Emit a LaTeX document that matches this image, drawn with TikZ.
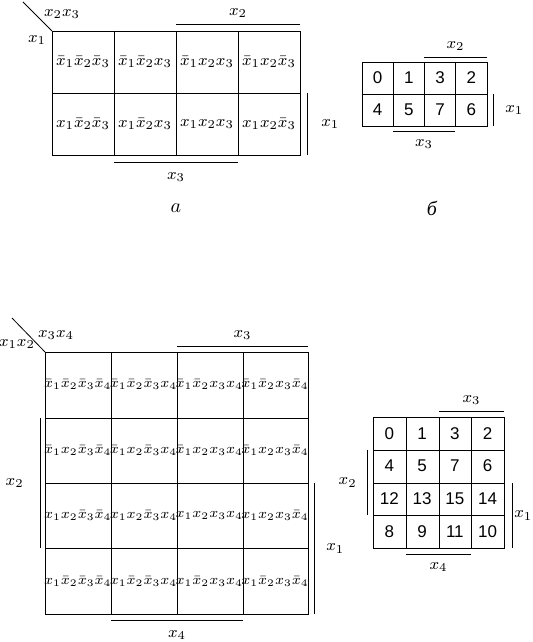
\documentclass[tikz,border=0pt]{standalone}
\usepackage{fontspec}
\newfontfamily\numfont{Liberation Sans}
\newfontfamily\cyrfont{Liberation Serif}
\usepackage{amsmath}
\newcommand{\nx}[1]{\bar{x}_{#1}}

\begin{document}
\begin{tikzpicture}[x=0.5pt,y=-0.5pt]
\tikzstyle{every node}+=[inner sep=0pt,font=\footnotesize]
\tikzstyle{cellA}=[font=\footnotesize]
\tikzstyle{cellC}=[font=\fontsize{7.3}{9}\selectfont]
\tikzstyle{num}=[font=\numfont\fontsize{8.5}{10}\selectfont]
\tikzstyle{caption}=[font=\normalsize]
\useasboundingbox (0,0) rectangle (532,642);
% map a
\draw [black] (52,31) rectangle (300,155);
\foreach \x in {114,176,238} \draw [black] (\x,31) -- (\x,155);
\draw [black] (52,93) -- (300,93);
\draw [black] (23,2) -- (52,31);
\node (a23) at (62,14) {$x_2x_3$};
\node (a1) at (37,40) {$x_1$};
\foreach \r [count=\i] in {\nx1,x_1}
  \foreach \c [count=\j] in {{\nx2\nx3},{\nx2x_3},{x_2x_3},{x_2\nx3}}
    \node [cellA] (a\i\j) at ({21+62*\j},{62*\i}) {$\r\c$};
\draw [black] (176,24) -- (300,24) node [midway,above=3pt] (ax2) {$x_2$};
\draw [black] (307,93) -- (307,155) node [midway,right=7pt] (ax1) {$x_1$};
\draw [black] (114,162) -- (238,162) node [midway,below=5pt] (ax3) {$x_3$};
\node [caption] (capa) at (176,208) {$a$};
% map b
\draw [black] (362,62) rectangle (487,126);
\foreach \x in {393,424,455} \draw [black] (\x,62) -- (\x,126);
\draw [black] (362,94) -- (487,94);
\foreach \r [count=\i] in {{0,1,3,2},{4,5,7,6}}
  \foreach \n [count=\j] in \r
    \node [num] (b\i\j) at ({346.4+31.25*\j},{46+32*\i}) {\n};
\draw [black] (424,57) -- (487,57) node [midway,above=3pt] (bx2) {$x_2$};
\draw [black] (493,94) -- (493,126) node [midway,right=6pt] (bx1) {$x_1$};
\draw [black] (393,131) -- (455,131) node [midway,below=4pt] (bx3) {$x_3$};
\node [caption] (capb) at (432,208) {\cyrfont\itshape б};
% map c
\draw [black] (45,352) rectangle (308,614);
\foreach \x in {111,177,243} \draw [black] (\x,352) -- (\x,614);
\foreach \y in {418,483,548} \draw [black] (45,\y) -- (308,\y);
\draw [black] (12,318) -- (45,352);
\node (c34) at (56,335) {$x_3x_4$};
\node (c12) at (17,344) {$x_1x_2$};
\foreach \r [count=\i] in {{\nx1\nx2},{\nx1x_2},{x_1x_2},{x_1\nx2}}
  \foreach \c [count=\j] in {{\nx3\nx4},{\nx3x_4},{x_3x_4},{x_3\nx4}}
    \node [cellC] (c\i\j) at ({12+65.75*\j},{319.25+65.5*\i}) {$\r\c$};
\draw [black] (177,346) -- (308,346) node [midway,above=3pt] (cx3) {$x_3$};
\draw [black] (40,418) -- (40,548) node [midway,left=8pt] (cx2) {$x_2$};
\draw [black] (314,483) -- (314,614) node [midway,right=6pt] (cx1) {$x_1$};
\draw [black] (111,620) -- (243,620) node [midway,below=5pt] (cx4) {$x_4$};
% map d
\draw [black] (373,417) rectangle (504,548);
\foreach \x in {406,439,471} \draw [black] (\x,417) -- (\x,548);
\foreach \y in {450,483,515} \draw [black] (373,\y) -- (504,\y);
\foreach \r [count=\i] in {{0,1,3,2},{4,5,7,6},{12,13,15,14},{8,9,11,10}}
  \foreach \n [count=\j] in \r
    \node [num] (d\i\j) at ({356.6+32.75*\j},{400.6+32.75*\i}) {\n};
\draw [black] (439,411) -- (504,411) node [midway,above=3pt] (dx3) {$x_3$};
\draw [black] (367,450) -- (367,515) node [midway,left=5pt] (dx2) {$x_2$};
\draw [black] (512,483) -- (512,548) node [midway,right=1pt] (dx1) {$x_1$};
\draw [black] (406,554) -- (471,554) node [midway,below=4pt] (dx4) {$x_4$};
\end{tikzpicture}
\end{document}
